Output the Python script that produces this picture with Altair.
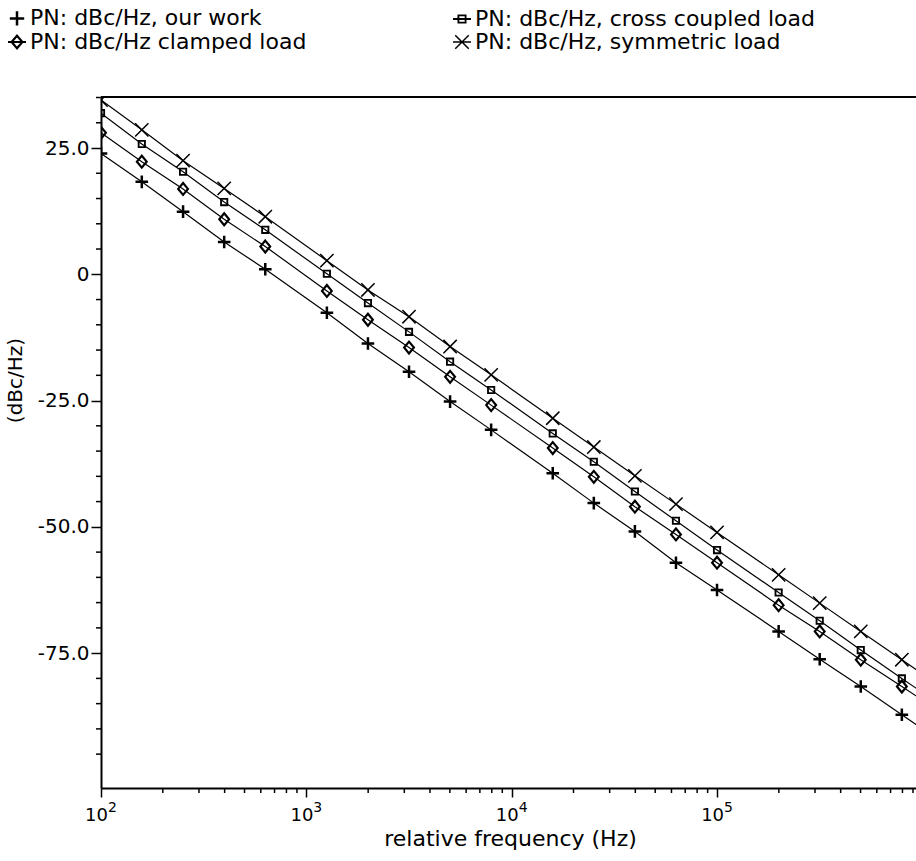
import altair as alt
import pandas as pd

# ---- data ----
freq = [100, 158, 251, 398, 631, 1259, 1995, 3162, 5012, 7943,
        15849, 25119, 39811, 63096, 100000, 199526, 316228, 501187, 794328]

series_names = [
    "PN: dBc/Hz, our work",
    "PN: dBc/Hz, cross coupled load",
    "PN: dBc/Hz clamped load",
    "PN: dBc/Hz, symmetric load",
]
# legend fills column by column: our work / clamped, then cross coupled / symmetric
legend_order = [series_names[0], series_names[2], series_names[1], series_names[3]]

our_work = [23.9, 18.3, 12.4, 6.4, 1.0, -7.6, -13.7, -19.3, -25.2, -30.8,
            -39.4, -45.3, -50.9, -57.1, -62.5, -70.7, -76.2, -81.6, -87.2]
cross_coupled = [31.9, 25.8, 20.3, 14.3, 8.8, 0.1, -5.7, -11.4, -17.3, -22.9,
                 -31.5, -37.1, -43.0, -48.8, -54.6, -63.0, -68.6, -74.4, -80.0]
clamped = [28.0, 22.3, 16.9, 10.9, 5.5, -3.3, -9.0, -14.5, -20.3, -25.9,
           -34.4, -40.1, -46.0, -51.5, -57.1, -65.5, -70.7, -76.3, -81.6]
symmetric = [34.5, 28.6, 22.5, 17.0, 11.4, 2.7, -3.1, -8.4, -14.3, -19.9,
             -28.5, -34.2, -39.9, -45.5, -51.1, -59.5, -65.1, -70.7, -76.3]

# where each curve leaves the plot at the right edge
end_freq = 1000000
end_values = [-90.0, -82.8, -84.3, -79.1]

x_major = [100, 1000, 10000, 100000]
x_major_exp = ["2", "3", "4", "5"]
x_minor = [m * 10 ** e for e in range(2, 6) for m in range(2, 10)]
y_major = [-75, -50, -25, 0, 25]
y_minor = [v for v in range(-100, 36, 5) if v % 25 != 0]

# plot markers
marker_paths = {
    series_names[0]: "M-0.9,0L0.9,0M0,-0.9L0,0.9",
    series_names[1]: "M-0.45,-0.45H0.45V0.45H-0.45Z",
    series_names[2]: "M0,-0.85L0.7,0L0,0.85L-0.7,0Z",
    series_names[3]: "M-0.95,-0.95L0.95,0.95M-0.95,0.95L0.95,-0.95",
}
# legend symbols: marker drawn over a short piece of line
legend_paths = {
    series_names[0]: "M-0.8,0L0.8,0M0,-0.8L0,0.8",
    series_names[1]: "M-1,0L1,0M-0.4,-0.4H0.4V0.4H-0.4Z",
    series_names[2]: "M-1,0L1,0M0,-0.7L0.6,0L0,0.7L-0.6,0Z",
    series_names[3]: "M-1,0L1,0M-0.75,-0.75L0.75,0.75M-0.75,0.75L0.75,-0.75",
}
marker_widths = {series_names[0]: 2.5, series_names[1]: 2.2,
                 series_names[2]: 1.5, series_names[3]: 1.0}

# ---- tables ----
all_vals = [our_work, cross_coupled, clamped, symmetric]
rows = []
for name, vals in zip(series_names, all_vals):
    for f, v in zip(freq, vals):
        rows.append({"freq": f, "pn": v, "series": name})
pts = pd.DataFrame(rows)
line_rows = rows + [{"freq": end_freq, "pn": v, "series": n}
                    for n, v in zip(series_names, end_values)]
lines_df = pd.DataFrame(line_rows)
xlab_df = pd.DataFrame({"freq": x_major, "base": ["10"] * len(x_major), "exp": x_major_exp})
xminor_df = pd.DataFrame({"freq": x_minor})
yminor_df = pd.DataFrame({"pn": y_minor})

FONT = "DejaVu Sans"
W, H = 815, 691

xscale = alt.Scale(type="log", domain=[100, 931000], nice=False)
yscale = alt.Scale(domain=[-101.7, 35.1], nice=False, zero=False)

lines = alt.Chart(lines_df).mark_line(color="black", strokeWidth=1.2, clip=True).encode(
    x=alt.X("freq:Q", scale=xscale,
            axis=alt.Axis(orient="bottom", values=x_major, labels=False,
                          title="relative frequency (Hz)", grid=False,
                          tickSize=9, tickColor="black", tickWidth=1.5,
                          domainColor="black", domainWidth=2,
                          titleFont=FONT, titleFontSize=22,
                          titleFontWeight="normal", titleColor="black",
                          titleX=409, titleY=40, titleBaseline="top")),
    y=alt.Y("pn:Q", scale=yscale,
            axis=alt.Axis(orient="left", values=y_major, labelOverlap=False,
                          labelExpr="datum.value == 0 ? '0' : (datum.value < 0 ? '-' : '') + format(abs(datum.value), '.1f')",
                          title="(dBc/Hz)", grid=False,
                          tickSize=10, tickColor="black", tickWidth=1.5,
                          domainColor="black", domainWidth=2,
                          labelFont=FONT, labelFontSize=20, labelColor="black",
                          labelPadding=2, titleFont=FONT, titleFontSize=20,
                          titleFontWeight="normal", titleColor="black",
                          titleX=-86, titleY=283, titleAngle=270,
                          titleBaseline="middle", titleAlign="center")),
    detail="series:N",
)

points = alt.Chart(pts).mark_point(filled=False, color="black", opacity=1, size=196, clip=True).encode(
    x=alt.X("freq:Q", scale=xscale),
    y=alt.Y("pn:Q", scale=yscale),
    shape=alt.Shape("series:N",
                    scale=alt.Scale(domain=legend_order,
                                    range=[marker_paths[s] for s in legend_order]),
                    legend=None),
    strokeWidth=alt.StrokeWidth("series:N",
                                scale=alt.Scale(domain=legend_order,
                                                range=[marker_widths[s] for s in legend_order]),
                                legend=None),
)

leg = dict(title=None, orient="none", legendX=-95, legendY=-90,
           columns=2, columnPadding=142, rowPadding=-1,
           labelFont=FONT, labelFontSize=22, labelColor="black",
           labelLimit=0, symbolSize=324, symbolStrokeColor="black",
           symbolFillColor="transparent", labelOffset=2)

# legend-only layer (draws nothing, its scales give the legend entries)
legend_layer = alt.Chart(pts).transform_filter("false").mark_point(
    filled=False, color="black", opacity=1, size=324
).encode(
    x=alt.X("freq:Q", scale=xscale),
    y=alt.Y("pn:Q", scale=yscale),
    shape=alt.Shape("series:N",
                    scale=alt.Scale(domain=legend_order,
                                    range=[legend_paths[s] for s in legend_order]),
                    legend=alt.Legend(**leg)),
    strokeWidth=alt.StrokeWidth("series:N",
                                scale=alt.Scale(domain=legend_order,
                                                range=[marker_widths[s] for s in legend_order]),
                                legend=alt.Legend(**leg)),
)

x_minor_ticks = alt.Chart(xminor_df).mark_rule(color="black", strokeWidth=1.5).encode(
    x=alt.X("freq:Q", scale=xscale), y=alt.value(H), y2=alt.value(H + 5)
)
y_minor_ticks = alt.Chart(yminor_df).mark_rule(color="black", strokeWidth=1.5).encode(
    y=alt.Y("pn:Q", scale=yscale), x=alt.value(-5), x2=alt.value(0)
)

xlab_base = alt.Chart(xlab_df).mark_text(
    font=FONT, fontSize=18, color="black", align="right", baseline="alphabetic", dx=7
).encode(x=alt.X("freq:Q", scale=xscale), y=alt.value(H + 33), text="base:N")

xlab_exp = alt.Chart(xlab_df).mark_text(
    font=FONT, fontSize=14, color="black", align="left", baseline="alphabetic", dx=7
).encode(x=alt.X("freq:Q", scale=xscale), y=alt.value(H + 24), text="exp:N")

top_border = alt.Chart(pd.DataFrame({"k": [0]})).mark_rule(color="black", strokeWidth=2).encode(
    x=alt.value(0), x2=alt.value(W), y=alt.value(0)
)

chart = alt.layer(lines, points, legend_layer, x_minor_ticks, y_minor_ticks,
                  xlab_base, xlab_exp, top_border).resolve_scale(
    shape="independent", strokeWidth="independent"
).properties(
    width=W, height=H,
    autosize=alt.AutoSizeParams(type="none"),
    padding={"left": 101, "top": 97, "right": 0, "bottom": 70},
    background="white",
).configure_view(stroke=None)

chart.save("out.html", embed_options={"renderer": "svg", "actions": False})
